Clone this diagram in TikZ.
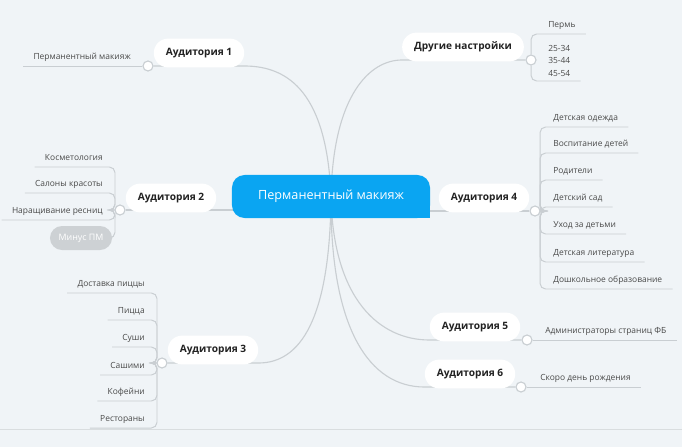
\documentclass[tikz,border=0pt]{standalone}
\usepackage{fontspec}
\setmainfont{Open Sans}
\usetikzlibrary{positioning}

\definecolor{bgcol}{HTML}{F0F4F7}
\definecolor{rootblue}{HTML}{0AA5F2}
\definecolor{linegray}{HTML}{C9CED2}
\definecolor{leaftext}{HTML}{4A4A4A}
\definecolor{topictext}{HTML}{222222}
\definecolor{minusgray}{HTML}{CDD1D4}

\pgfdeclarelayer{bg}
\pgfdeclarelayer{lines}
\pgfsetlayers{bg,lines,main}

\tikzset{
  root/.style={fill=rootblue, text=white, rounded corners=9pt,
    minimum width=4.95cm, minimum height=1.075cm,
    font=\fontsize{9}{11}\selectfont},
  topic/.style={fill=white, rounded corners=0.36cm, minimum height=0.72cm,
    inner xsep=0.3cm, text=topictext,
    font=\bfseries\fontsize{7.2}{9}\selectfont},
  leaf/.style={text=leaftext, text height=5.5pt, text depth=1.5pt,
    inner ysep=3pt, inner xsep=0.25cm,
    font=\fontsize{6}{8}\selectfont},
  minus/.style={fill=minusgray, text=white, rounded corners=0.3cm,
    minimum width=1.55cm, minimum height=0.6cm,
    font=\fontsize{6.3}{8}\selectfont},
  knob/.style={circle, draw=linegray, fill=white, line width=0.8pt,
    minimum size=0.25cm, inner sep=0pt},
  branch/.style={draw=linegray, line width=0.8pt},
  twig/.style={draw=linegray, line width=0.7pt, rounded corners=4pt},
}

\begin{document}
\begin{tikzpicture}[x=0.025cm, y=-0.025cm]

    % Background
    \useasboundingbox (0,0) rectangle (682,447);
    \begin{pgfonlayer}{bg}
      \fill[bgcol] (0,0) rectangle (682,447);
      \draw[linegray!70, line width=0.6pt] (0,429) -- (682,429);
    \end{pgfonlayer}

    % Central topic
    \node[root] (root) at (331,196.5) {Перманентный макияж};
    \fill[rootblue] (root.south east) rectangle ++(-12,-12);

    % Main topics
    \node[topic] (a1) at (199,53) {Аудитория 1};
    \node[topic] (dn) at (463,47) {Другие настройки};
    \node[topic] (a2) at (171,198) {Аудитория 2};
    \node[topic] (a4) at (484,198) {Аудитория 4};
    \node[topic] (a3) at (213,350) {Аудитория 3};
    \node[topic] (a5) at (475,327) {Аудитория 5};
    \node[topic] (a6) at (470,374) {Аудитория 6};

    % Collapse knobs
    \node[knob] (c1) at (148,66) {};
    \node[knob] (cd) at (531,60) {};
    \node[knob] (c2) at (120,210) {};
    \node[knob] (c4) at (535,211) {};
    \node[knob] (c3) at (162,363) {};
    \node[knob] (c5) at (527,340) {};
    \node[knob] (c6) at (521,387) {};

    % Leaves: Аудитория 1
    \node[leaf, anchor=south east] (l11) at (141,66) {Перманентный макияж};

    % Leaves: Другие настройки
    \node[leaf, anchor=south west] (ld1) at (538,34) {Пермь};
    \node[leaf, anchor=south west, align=left, text height=, text depth=,
      font=\fontsize{6}{8.9}\selectfont] (ld2) at (538,81) {25-34\\35-44\\45-54};

    % Leaves: Аудитория 2
    \node[leaf, anchor=south east] (l21) at (113,167) {Косметология};
    \node[leaf, anchor=south east] (l22) at (113,193) {Салоны красоты};
    \node[leaf, anchor=south east] (l23) at (113,220) {Наращивание ресниц};
    \node[minus] (l24) at (81,238) {Минус ПМ};

    % Leaves: Аудитория 4
    \node[leaf, anchor=south west] (l41) at (543,127) {Детская одежда};
    \node[leaf, anchor=south west] (l42) at (543,153) {Воспитание детей};
    \node[leaf, anchor=south west] (l43) at (543,180) {Родители};
    \node[leaf, anchor=south west] (l44) at (543,207) {Детский сад};
    \node[leaf, anchor=south west] (l45) at (543,234) {Уход за детьми};
    \node[leaf, anchor=south west] (l46) at (543,262) {Детская литература};
    \node[leaf, anchor=south west] (l47) at (543,289) {Дошкольное образование};

    % Leaves: Аудитория 3
    \node[leaf, anchor=south east] (l31) at (155,293) {Доставка пиццы};
    \node[leaf, anchor=south east] (l32) at (155,320) {Пицца};
    \node[leaf, anchor=south east] (l33) at (155,347) {Суши};
    \node[leaf, anchor=south east] (l34) at (155,375) {Сашими};
    \node[leaf, anchor=south east] (l35) at (155,401) {Кофейни};
    \node[leaf, anchor=south east] (l36) at (155,428) {Рестораны};

    % Leaves: Аудитория 5 and 6
    \node[leaf, anchor=south west] (l51) at (535,340) {Администраторы страниц ФБ};
    \node[leaf, anchor=south west] (l61) at (530,387) {Скоро день рождения};

    \begin{pgfonlayer}{lines}
      % Central topic to main topics
      \draw[branch] (root.center) .. controls (327,95) and (290,66) .. (a1.east |- c1) -- (c1);
      \draw[branch] (root.center) .. controls (333,95) and (370,60) .. (dn.west |- cd) -- (cd);
      \draw[branch] (c2) -- (c2 -| root.center);
      \draw[branch] (c4) -- (c4 -| root.center);
      \draw[branch] (root.center) .. controls (330,320) and (300,363) .. (a3.east |- c3) -- (c3);
      \draw[branch] (root.center) .. controls (333,300) and (380,340) .. (a5.west |- c5) -- (c5);
      \draw[branch] (root.center) .. controls (330,330) and (370,387) .. (a6.west |- c6) -- (c6);

      % Knobs to leaves
      \draw[twig] (c1) -- (l11.south west);
      \draw[twig] (cd) |- (ld1.south east);
      \draw[twig] (cd) |- (ld2.south east);
      \draw[twig] (c2) -- ++(-5,0) |- (l21.south west);
      \draw[twig] (c2) -- ++(-5,0) |- (l22.south west);
      \draw[twig] (c2) -- ++(-5,0) |- (l23.south west);
      \draw[twig] (c2) -- ++(-5,0) |- (l24.east);
      \draw[twig] (c4) -- ++(5,0) |- (l41.south east);
      \draw[twig] (c4) -- ++(5,0) |- (l42.south east);
      \draw[twig] (c4) -- ++(5,0) |- (l43.south east);
      \draw[twig] (c4) -- ++(5,0) |- (l44.south east);
      \draw[twig] (c4) -- ++(5,0) |- (l45.south east);
      \draw[twig] (c4) -- ++(5,0) |- (l46.south east);
      \draw[twig] (c4) -- ++(5,0) |- (l47.south east);
      \draw[twig] (c3) -- ++(-5,0) |- (l31.south west);
      \draw[twig] (c3) -- ++(-5,0) |- (l32.south west);
      \draw[twig] (c3) -- ++(-5,0) |- (l33.south west);
      \draw[twig] (c3) -- ++(-5,0) |- (l34.south west);
      \draw[twig] (c3) -- ++(-5,0) |- (l35.south west);
      \draw[twig] (c3) -- ++(-5,0) |- (l36.south west);
      \draw[twig] (c5) -- (l51.south east);
      \draw[twig] (c6) -- (l61.south east);
    \end{pgfonlayer}

\end{tikzpicture}
\end{document}
